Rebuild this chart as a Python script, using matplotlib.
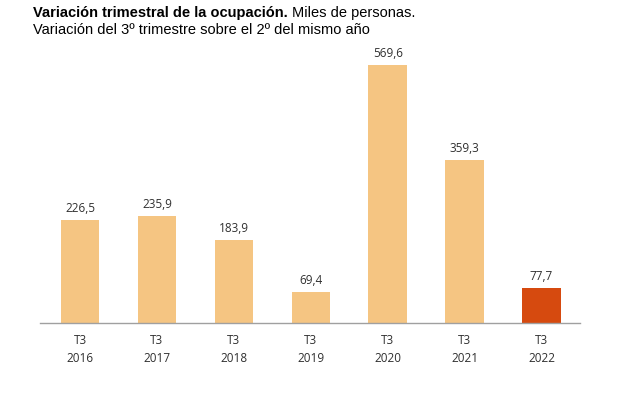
import matplotlib
matplotlib.use("Agg")
import matplotlib.pyplot as plt

years = ["2016", "2017", "2018", "2019", "2020", "2021", "2022"]
quarter = "T3"
values = [226.5, 235.9, 183.9, 69.4, 569.6, 359.3, 77.7]
colors = ["#F5C582"] * 6 + ["#D64A0F"]

fig = plt.figure(figsize=(6.39, 4.05), dpi=100)
ax = fig.add_axes([40/639, 1-323/405, 540/639, (323-51)/405])
x = list(range(len(years)))
ax.bar(x, values, width=0.5, color=colors)
ax.set_xlim(-0.52, 6.5)
ax.set_ylim(0, 600)
for s in ["top", "right", "left"]:
    ax.spines[s].set_visible(False)
ax.spines["bottom"].set_color("#A0A0A0")
ax.spines["bottom"].set_linewidth(1)
ax.set_yticks([])
ax.set_xticks(x)
ax.set_xticklabels([f"{quarter}\n{y}" for y in years], fontsize=8.5, color="#303030",
                   family="Open Sans", linespacing=1.5)
ax.tick_params(axis="x", length=0, pad=8)
for xi, v in zip(x, values):
    ax.annotate(f"{v:.1f}".replace(".", ","), (xi, v), xytext=(0, 3.5), textcoords="offset points",
                ha="center", va="bottom", fontsize=8.5, color="#303030", family="Open Sans")

t = fig.text(33/639, 1-13/405, "Variación trimestral de la ocupación.", fontsize=10.5, weight="bold",
             family="Liberation Sans", va="center", ha="left")
fig.canvas.draw()
bb = t.get_window_extent()
fig.text(bb.x1/639 + 4/639, 1-13/405, "Miles de personas.", fontsize=10.5,
         family="Liberation Sans", va="center", ha="left")
fig.text(33/639, 1-30/405, "Variación del 3º trimestre sobre el 2º del mismo año", fontsize=10.5,
         family="Liberation Sans", va="center", ha="left")
fig.savefig("out.png", dpi=100)
